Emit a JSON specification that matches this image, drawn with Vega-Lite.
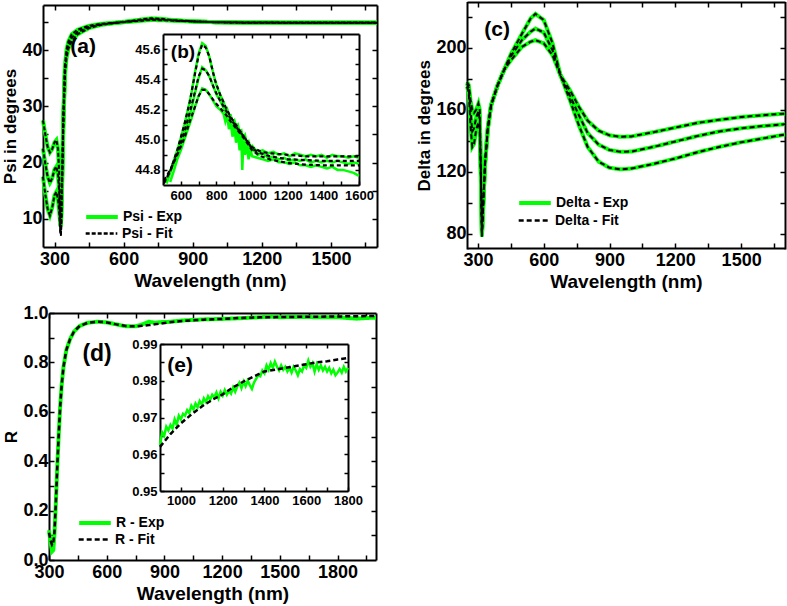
{
  "$schema": "https://vega.github.io/schema/vega-lite/v6.json",
  "width": 787,
  "height": 606,
  "autosize": "none",
  "padding": 0,
  "background": "white",
  "config": {
    "view": {"stroke": null},
    "font": "Liberation Sans",
    "axis": {
      "grid": false,
      "domainColor": "#000",
      "domainWidth": 2,
      "tickColor": "#000",
      "tickWidth": 1.5,
      "tickSize": -5,
      "labelColor": "#000",
      "labelFont": "Liberation Sans",
      "labelFontWeight": "bold",
      "labelFontSize": 18,
      "labelPadding": 8,
      "labelFlush": false,
      "labelOverlap": false,
      "titleFont": "Liberation Sans",
      "titleFontWeight": "bold",
      "titleColor": "#000",
      "titleFontSize": 19,
      "titlePadding": 3
    },
    "legend": {
      "labelFont": "Liberation Sans",
      "labelFontWeight": "bold",
      "labelFontSize": 14,
      "labelColor": "#000",
      "symbolType": "stroke",
      "symbolSize": 1000,
      "symbolStrokeWidth": 3,
      "labelOffset": 3,
      "padding": 0
    }
  },
  "datasets": {
    "psi": [
      {"wl":250,"c":"A","exp":27.5,"fit":27.5},{"wl":260,"c":"A","exp":25.0,"fit":25.0},{"wl":270,"c":"A","exp":22.8,"fit":22.8},{"wl":280,"c":"A","exp":21.8,"fit":21.8},{"wl":290,"c":"A","exp":22.4,"fit":22.4},{"wl":300,"c":"A","exp":23.6,"fit":23.6},{"wl":308,"c":"A","exp":24.0,"fit":24.0},{"wl":315,"c":"A","exp":22.5,"fit":22.5},{"wl":320,"c":"A","exp":18.5,"fit":18.5},{"wl":325,"c":"A","exp":11.0,"fit":9.0},{"wl":328,"c":"A","exp":9.5,"fit":7.5},{"wl":332,"c":"A","exp":16,"fit":16},{"wl":338,"c":"A","exp":28,"fit":28},{"wl":345,"c":"A","exp":37,"fit":37},{"wl":352,"c":"A","exp":40,"fit":40},{"wl":360,"c":"A","exp":41.5,"fit":41.5},{"wl":375,"c":"A","exp":42.8,"fit":42.8},{"wl":400,"c":"A","exp":43.6,"fit":43.6},{"wl":450,"c":"A","exp":44.3,"fit":44.3},{"wl":500,"c":"A","exp":44.65,"fit":44.65},{"wl":560,"c":"A","exp":44.85,"fit":44.85},{"wl":620,"c":"A","exp":45.1,"fit":45.1},{"wl":680,"c":"A","exp":45.44,"fit":45.44},{"wl":720,"c":"A","exp":45.63,"fit":45.63},{"wl":760,"c":"A","exp":45.55,"fit":45.55},{"wl":820,"c":"A","exp":45.3,"fit":45.3},{"wl":900,"c":"A","exp":45.1,"fit":45.1},{"wl":1000,"c":"A","exp":44.95,"fit":44.95},{"wl":1100,"c":"A","exp":44.91,"fit":44.91},{"wl":1300,"c":"A","exp":44.89,"fit":44.89},{"wl":1500,"c":"A","exp":44.89,"fit":44.89},{"wl":1700,"c":"A","exp":44.89,"fit":44.89},
      {"wl":250,"c":"B","exp":22.5,"fit":22.5},{"wl":260,"c":"B","exp":19.8,"fit":19.8},{"wl":270,"c":"B","exp":17.5,"fit":17.5},{"wl":280,"c":"B","exp":16.4,"fit":16.4},{"wl":290,"c":"B","exp":17.2,"fit":17.2},{"wl":300,"c":"B","exp":18.8,"fit":18.8},{"wl":308,"c":"B","exp":19.3,"fit":19.3},{"wl":315,"c":"B","exp":18.0,"fit":18.0},{"wl":320,"c":"B","exp":15.0,"fit":15.0},{"wl":325,"c":"B","exp":10.0,"fit":8.0},{"wl":328,"c":"B","exp":9.2,"fit":7.2},{"wl":332,"c":"B","exp":15,"fit":15},{"wl":338,"c":"B","exp":27,"fit":27},{"wl":345,"c":"B","exp":36.2,"fit":36.2},{"wl":352,"c":"B","exp":39.3,"fit":39.3},{"wl":360,"c":"B","exp":40.8,"fit":40.8},{"wl":375,"c":"B","exp":42.2,"fit":42.2},{"wl":400,"c":"B","exp":43.2,"fit":43.2},{"wl":450,"c":"B","exp":44.1,"fit":44.1},{"wl":500,"c":"B","exp":44.55,"fit":44.55},{"wl":560,"c":"B","exp":44.8,"fit":44.8},{"wl":620,"c":"B","exp":45.05,"fit":45.05},{"wl":680,"c":"B","exp":45.32,"fit":45.32},{"wl":720,"c":"B","exp":45.47,"fit":45.47},{"wl":760,"c":"B","exp":45.42,"fit":45.42},{"wl":820,"c":"B","exp":45.26,"fit":45.26},{"wl":900,"c":"B","exp":45.09,"fit":45.09},{"wl":1000,"c":"B","exp":44.94,"fit":44.94},{"wl":1100,"c":"B","exp":44.89,"fit":44.89},{"wl":1300,"c":"B","exp":44.865,"fit":44.865},{"wl":1500,"c":"B","exp":44.86,"fit":44.86},{"wl":1700,"c":"B","exp":44.86,"fit":44.86},
      {"wl":250,"c":"C","exp":17.5,"fit":17.5},{"wl":260,"c":"C","exp":14.3,"fit":14.3},{"wl":270,"c":"C","exp":11.8,"fit":11.8},{"wl":280,"c":"C","exp":10.6,"fit":10.6},{"wl":290,"c":"C","exp":12.0,"fit":12.0},{"wl":300,"c":"C","exp":14.2,"fit":14.2},{"wl":308,"c":"C","exp":14.8,"fit":14.8},{"wl":315,"c":"C","exp":13.5,"fit":13.5},{"wl":320,"c":"C","exp":11.5,"fit":11.5},{"wl":325,"c":"C","exp":9.0,"fit":7.5},{"wl":328,"c":"C","exp":9.0,"fit":7.0},{"wl":332,"c":"C","exp":14,"fit":14},{"wl":338,"c":"C","exp":26,"fit":26},{"wl":345,"c":"C","exp":35.5,"fit":35.5},{"wl":352,"c":"C","exp":38.6,"fit":38.6},{"wl":360,"c":"C","exp":40.2,"fit":40.2},{"wl":375,"c":"C","exp":41.6,"fit":41.6},{"wl":400,"c":"C","exp":42.8,"fit":42.8},{"wl":450,"c":"C","exp":43.9,"fit":43.9},{"wl":500,"c":"C","exp":44.45,"fit":44.45},{"wl":560,"c":"C","exp":44.8,"fit":44.8},{"wl":620,"c":"C","exp":45.01,"fit":45.01},{"wl":680,"c":"C","exp":45.22,"fit":45.22},{"wl":720,"c":"C","exp":45.33,"fit":45.33},{"wl":760,"c":"C","exp":45.3,"fit":45.3},{"wl":820,"c":"C","exp":45.21,"fit":45.21},{"wl":900,"c":"C","exp":45.08,"fit":45.08},{"wl":1000,"c":"C","exp":44.93,"fit":44.93},{"wl":1100,"c":"C","exp":44.87,"fit":44.87},{"wl":1300,"c":"C","exp":44.835,"fit":44.835},{"wl":1500,"c":"C","exp":44.83,"fit":44.83},{"wl":1700,"c":"C","exp":44.83,"fit":44.83}
    ],
    "psiInFit": [
      {"wl":505,"c":"A","fit":44.71},{"wl":540,"c":"A","fit":44.79},{"wl":580,"c":"A","fit":44.93},{"wl":620,"c":"A","fit":45.10},{"wl":650,"c":"A","fit":45.25},{"wl":680,"c":"A","fit":45.44},{"wl":700,"c":"A","fit":45.56},{"wl":720,"c":"A","fit":45.63},{"wl":740,"c":"A","fit":45.61},{"wl":760,"c":"A","fit":45.55},{"wl":790,"c":"A","fit":45.40},{"wl":820,"c":"A","fit":45.30},{"wl":850,"c":"A","fit":45.22},{"wl":880,"c":"A","fit":45.15},{"wl":920,"c":"A","fit":45.08},{"wl":960,"c":"A","fit":45.01},{"wl":1000,"c":"A","fit":44.95},{"wl":1050,"c":"A","fit":44.92},{"wl":1100,"c":"A","fit":44.91},{"wl":1200,"c":"A","fit":44.90},{"wl":1300,"c":"A","fit":44.89},{"wl":1400,"c":"A","fit":44.89},{"wl":1600,"c":"A","fit":44.89},
      {"wl":505,"c":"B","fit":44.72},{"wl":540,"c":"B","fit":44.79},{"wl":580,"c":"B","fit":44.91},{"wl":620,"c":"B","fit":45.05},{"wl":650,"c":"B","fit":45.18},{"wl":680,"c":"B","fit":45.32},{"wl":700,"c":"B","fit":45.42},{"wl":720,"c":"B","fit":45.47},{"wl":740,"c":"B","fit":45.46},{"wl":760,"c":"B","fit":45.42},{"wl":790,"c":"B","fit":45.33},{"wl":820,"c":"B","fit":45.26},{"wl":850,"c":"B","fit":45.20},{"wl":880,"c":"B","fit":45.14},{"wl":920,"c":"B","fit":45.07},{"wl":960,"c":"B","fit":45.01},{"wl":1000,"c":"B","fit":44.94},{"wl":1050,"c":"B","fit":44.91},{"wl":1100,"c":"B","fit":44.89},{"wl":1200,"c":"B","fit":44.87},{"wl":1300,"c":"B","fit":44.865},{"wl":1400,"c":"B","fit":44.86},{"wl":1600,"c":"B","fit":44.86},
      {"wl":505,"c":"C","fit":44.73},{"wl":540,"c":"C","fit":44.80},{"wl":580,"c":"C","fit":44.90},{"wl":620,"c":"C","fit":45.01},{"wl":650,"c":"C","fit":45.12},{"wl":680,"c":"C","fit":45.22},{"wl":700,"c":"C","fit":45.29},{"wl":720,"c":"C","fit":45.33},{"wl":740,"c":"C","fit":45.33},{"wl":760,"c":"C","fit":45.30},{"wl":790,"c":"C","fit":45.25},{"wl":820,"c":"C","fit":45.21},{"wl":850,"c":"C","fit":45.17},{"wl":880,"c":"C","fit":45.12},{"wl":920,"c":"C","fit":45.06},{"wl":960,"c":"C","fit":45.00},{"wl":1000,"c":"C","fit":44.93},{"wl":1050,"c":"C","fit":44.89},{"wl":1100,"c":"C","fit":44.87},{"wl":1200,"c":"C","fit":44.845},{"wl":1300,"c":"C","fit":44.835},{"wl":1400,"c":"C","fit":44.83},{"wl":1600,"c":"C","fit":44.83}
    ],
    "psiInExp": [
      {"wl":520,"c":"A","exp":44.72},{"wl":540,"c":"A","exp":44.79},{"wl":560,"c":"A","exp":44.86},{"wl":580,"c":"A","exp":44.93},{"wl":600,"c":"A","exp":45.01},{"wl":620,"c":"A","exp":45.10},{"wl":640,"c":"A","exp":45.2},{"wl":660,"c":"A","exp":45.31},{"wl":680,"c":"A","exp":45.45},{"wl":700,"c":"A","exp":45.57},{"wl":720,"c":"A","exp":45.64},{"wl":740,"c":"A","exp":45.62},{"wl":760,"c":"A","exp":45.55},{"wl":780,"c":"A","exp":45.45},{"wl":800,"c":"A","exp":45.36},{"wl":820,"c":"A","exp":45.30},{"wl":840,"c":"A","exp":45.25},{"wl":850,"c":"A","exp":45.21},{"wl":860,"c":"A","exp":45.2},{"wl":870,"c":"A","exp":45.16},{"wl":880,"c":"A","exp":45.16},{"wl":890,"c":"A","exp":45.12},{"wl":900,"c":"A","exp":45.13},{"wl":910,"c":"A","exp":45.09},{"wl":920,"c":"A","exp":45.1},{"wl":930,"c":"A","exp":45.05},{"wl":940,"c":"A","exp":45.06},{"wl":950,"c":"A","exp":45.01},{"wl":960,"c":"A","exp":45.03},{"wl":970,"c":"A","exp":44.98},{"wl":980,"c":"A","exp":44.99},{"wl":990,"c":"A","exp":44.95},{"wl":1000,"c":"A","exp":44.96},{"wl":1030,"c":"A","exp":44.92},{"wl":1060,"c":"A","exp":44.93},{"wl":1090,"c":"A","exp":44.91},{"wl":1120,"c":"A","exp":44.92},{"wl":1150,"c":"A","exp":44.90},{"wl":1180,"c":"A","exp":44.91},{"wl":1210,"c":"A","exp":44.89},{"wl":1240,"c":"A","exp":44.91},{"wl":1270,"c":"A","exp":44.9},{"wl":1300,"c":"A","exp":44.89},{"wl":1330,"c":"A","exp":44.9},{"wl":1360,"c":"A","exp":44.89},{"wl":1390,"c":"A","exp":44.9},{"wl":1420,"c":"A","exp":44.88},{"wl":1450,"c":"A","exp":44.9},{"wl":1480,"c":"A","exp":44.89},{"wl":1510,"c":"A","exp":44.89},{"wl":1540,"c":"A","exp":44.88},{"wl":1570,"c":"A","exp":44.89},{"wl":1600,"c":"A","exp":44.88},
      {"wl":520,"c":"B","exp":44.71},{"wl":540,"c":"B","exp":44.78},{"wl":560,"c":"B","exp":44.84},{"wl":580,"c":"B","exp":44.9},{"wl":600,"c":"B","exp":44.97},{"wl":620,"c":"B","exp":45.04},{"wl":640,"c":"B","exp":45.12},{"wl":660,"c":"B","exp":45.21},{"wl":680,"c":"B","exp":45.31},{"wl":700,"c":"B","exp":45.41},{"wl":720,"c":"B","exp":45.48},{"wl":740,"c":"B","exp":45.46},{"wl":760,"c":"B","exp":45.42},{"wl":780,"c":"B","exp":45.36},{"wl":800,"c":"B","exp":45.3},{"wl":820,"c":"B","exp":45.26},{"wl":840,"c":"B","exp":45.21},{"wl":850,"c":"B","exp":45.18},{"wl":860,"c":"B","exp":45.2},{"wl":870,"c":"B","exp":45.13},{"wl":880,"c":"B","exp":45.15},{"wl":890,"c":"B","exp":45.09},{"wl":900,"c":"B","exp":45.11},{"wl":910,"c":"B","exp":45.05},{"wl":920,"c":"B","exp":45.08},{"wl":930,"c":"B","exp":45.0},{"wl":940,"c":"B","exp":45.05},{"wl":950,"c":"B","exp":44.92},{"wl":960,"c":"B","exp":45.0},{"wl":970,"c":"B","exp":44.94},{"wl":980,"c":"B","exp":44.97},{"wl":990,"c":"B","exp":44.91},{"wl":1000,"c":"B","exp":44.94},{"wl":1030,"c":"B","exp":44.9},{"wl":1060,"c":"B","exp":44.91},{"wl":1090,"c":"B","exp":44.88},{"wl":1120,"c":"B","exp":44.89},{"wl":1150,"c":"B","exp":44.87},{"wl":1180,"c":"B","exp":44.88},{"wl":1210,"c":"B","exp":44.86},{"wl":1240,"c":"B","exp":44.87},{"wl":1270,"c":"B","exp":44.86},{"wl":1300,"c":"B","exp":44.87},{"wl":1330,"c":"B","exp":44.85},{"wl":1360,"c":"B","exp":44.86},{"wl":1390,"c":"B","exp":44.85},{"wl":1420,"c":"B","exp":44.86},{"wl":1450,"c":"B","exp":44.85},{"wl":1480,"c":"B","exp":44.86},{"wl":1510,"c":"B","exp":44.85},{"wl":1540,"c":"B","exp":44.84},{"wl":1570,"c":"B","exp":44.85},{"wl":1600,"c":"B","exp":44.84},
      {"wl":540,"c":"C","exp":44.72},{"wl":560,"c":"C","exp":44.79},{"wl":580,"c":"C","exp":44.87},{"wl":600,"c":"C","exp":44.93},{"wl":620,"c":"C","exp":45.0},{"wl":640,"c":"C","exp":45.07},{"wl":660,"c":"C","exp":45.14},{"wl":680,"c":"C","exp":45.22},{"wl":700,"c":"C","exp":45.29},{"wl":720,"c":"C","exp":45.34},{"wl":740,"c":"C","exp":45.33},{"wl":760,"c":"C","exp":45.3},{"wl":780,"c":"C","exp":45.26},{"wl":800,"c":"C","exp":45.22},{"wl":820,"c":"C","exp":45.2},{"wl":840,"c":"C","exp":45.17},{"wl":850,"c":"C","exp":45.12},{"wl":860,"c":"C","exp":45.16},{"wl":870,"c":"C","exp":45.07},{"wl":880,"c":"C","exp":45.12},{"wl":890,"c":"C","exp":45.02},{"wl":900,"c":"C","exp":45.09},{"wl":910,"c":"C","exp":44.98},{"wl":920,"c":"C","exp":45.05},{"wl":930,"c":"C","exp":44.93},{"wl":940,"c":"C","exp":45.0},{"wl":945,"c":"C","exp":44.8},{"wl":950,"c":"C","exp":44.97},{"wl":960,"c":"C","exp":44.9},{"wl":970,"c":"C","exp":44.97},{"wl":980,"c":"C","exp":44.87},{"wl":990,"c":"C","exp":44.94},{"wl":1000,"c":"C","exp":44.89},{"wl":1030,"c":"C","exp":44.88},{"wl":1060,"c":"C","exp":44.87},{"wl":1090,"c":"C","exp":44.86},{"wl":1120,"c":"C","exp":44.87},{"wl":1150,"c":"C","exp":44.85},{"wl":1180,"c":"C","exp":44.85},{"wl":1210,"c":"C","exp":44.84},{"wl":1240,"c":"C","exp":44.85},{"wl":1270,"c":"C","exp":44.83},{"wl":1300,"c":"C","exp":44.83},{"wl":1330,"c":"C","exp":44.82},{"wl":1360,"c":"C","exp":44.83},{"wl":1390,"c":"C","exp":44.82},{"wl":1420,"c":"C","exp":44.81},{"wl":1450,"c":"C","exp":44.82},{"wl":1480,"c":"C","exp":44.8},{"wl":1510,"c":"C","exp":44.8},{"wl":1540,"c":"C","exp":44.79},{"wl":1570,"c":"C","exp":44.78},{"wl":1600,"c":"C","exp":44.76}
    ],
    "delta": [
      {"wl":250,"c":"A","v":175},{"wl":258,"c":"A","v":171},{"wl":266,"c":"A","v":150},{"wl":274,"c":"A","v":136},{"wl":282,"c":"A","v":138},{"wl":292,"c":"A","v":147},{"wl":302,"c":"A","v":152},{"wl":308,"c":"A","v":147},{"wl":313,"c":"A","v":118},{"wl":318,"c":"A","v":78},{"wl":324,"c":"A","v":98},{"wl":332,"c":"A","v":124},{"wl":345,"c":"A","v":148},{"wl":360,"c":"A","v":163},{"wl":390,"c":"A","v":176},{"wl":420,"c":"A","v":186},{"wl":450,"c":"A","v":196},{"wl":500,"c":"A","v":209},{"wl":540,"c":"A","v":219},{"wl":562,"c":"A","v":222},{"wl":600,"c":"A","v":218},{"wl":640,"c":"A","v":203},{"wl":676,"c":"A","v":182.4},{"wl":720,"c":"A","v":166},{"wl":760,"c":"A","v":150},{"wl":800,"c":"A","v":136},{"wl":850,"c":"A","v":126.5},{"wl":900,"c":"A","v":122.5},{"wl":950,"c":"A","v":121.5},{"wl":1000,"c":"A","v":122},{"wl":1100,"c":"A","v":125},{"wl":1200,"c":"A","v":128.5},{"wl":1300,"c":"A","v":132.5},{"wl":1400,"c":"A","v":136},{"wl":1500,"c":"A","v":139},{"wl":1600,"c":"A","v":141.5},{"wl":1700,"c":"A","v":144},
      {"wl":250,"c":"B","v":177},{"wl":258,"c":"B","v":174},{"wl":266,"c":"B","v":160},{"wl":274,"c":"B","v":146},{"wl":282,"c":"B","v":148},{"wl":292,"c":"B","v":155},{"wl":302,"c":"B","v":159},{"wl":308,"c":"B","v":154},{"wl":313,"c":"B","v":120},{"wl":318,"c":"B","v":79},{"wl":324,"c":"B","v":99},{"wl":332,"c":"B","v":125},{"wl":345,"c":"B","v":148},{"wl":360,"c":"B","v":163},{"wl":390,"c":"B","v":176},{"wl":420,"c":"B","v":186},{"wl":450,"c":"B","v":194.5},{"wl":500,"c":"B","v":205},{"wl":540,"c":"B","v":210.5},{"wl":562,"c":"B","v":212.5},{"wl":600,"c":"B","v":210},{"wl":640,"c":"B","v":198.5},{"wl":676,"c":"B","v":182.4},{"wl":720,"c":"B","v":169},{"wl":760,"c":"B","v":156.5},{"wl":800,"c":"B","v":145},{"wl":850,"c":"B","v":137.5},{"wl":900,"c":"B","v":134},{"wl":950,"c":"B","v":132.8},{"wl":1000,"c":"B","v":133},{"wl":1100,"c":"B","v":136},{"wl":1200,"c":"B","v":139.5},{"wl":1300,"c":"B","v":143},{"wl":1400,"c":"B","v":146},{"wl":1500,"c":"B","v":148},{"wl":1600,"c":"B","v":149.5},{"wl":1700,"c":"B","v":150.7},
      {"wl":250,"c":"C","v":178},{"wl":258,"c":"C","v":176},{"wl":266,"c":"C","v":166},{"wl":274,"c":"C","v":160},{"wl":282,"c":"C","v":158},{"wl":292,"c":"C","v":160},{"wl":302,"c":"C","v":164},{"wl":308,"c":"C","v":160},{"wl":313,"c":"C","v":125},{"wl":318,"c":"C","v":80},{"wl":324,"c":"C","v":100},{"wl":332,"c":"C","v":126},{"wl":345,"c":"C","v":148},{"wl":360,"c":"C","v":163},{"wl":390,"c":"C","v":176},{"wl":420,"c":"C","v":186},{"wl":450,"c":"C","v":192},{"wl":500,"c":"C","v":200.6},{"wl":540,"c":"C","v":204},{"wl":562,"c":"C","v":205},{"wl":600,"c":"C","v":203},{"wl":640,"c":"C","v":195.3},{"wl":676,"c":"C","v":182.4},{"wl":720,"c":"C","v":172.5},{"wl":760,"c":"C","v":162},{"wl":800,"c":"C","v":153},{"wl":850,"c":"C","v":146.5},{"wl":900,"c":"C","v":143.5},{"wl":950,"c":"C","v":142.5},{"wl":1000,"c":"C","v":142.8},{"wl":1100,"c":"C","v":145.5},{"wl":1200,"c":"C","v":148.5},{"wl":1300,"c":"C","v":151.5},{"wl":1400,"c":"C","v":153.5},{"wl":1500,"c":"C","v":155.3},{"wl":1600,"c":"C","v":156.5},{"wl":1700,"c":"C","v":157.5}
    ],
    "refl": [
      {"wl":300,"exp":0.12,"fit":0.11},{"wl":308,"exp":0.07,"fit":0.08},{"wl":316,"exp":0.035,"fit":0.06},{"wl":322,"exp":0.04,"fit":0.065},{"wl":328,"exp":0.1,"fit":0.11},{"wl":335,"exp":0.22,"fit":0.22},{"wl":342,"exp":0.36,"fit":0.36},{"wl":350,"exp":0.5,"fit":0.5},{"wl":358,"exp":0.62,"fit":0.62},{"wl":366,"exp":0.71,"fit":0.71},{"wl":375,"exp":0.78,"fit":0.78},{"wl":390,"exp":0.85,"fit":0.85},{"wl":410,"exp":0.895,"fit":0.895},{"wl":430,"exp":0.925,"fit":0.925},{"wl":460,"exp":0.948,"fit":0.948},{"wl":500,"exp":0.96,"fit":0.96},{"wl":550,"exp":0.965,"fit":0.965},{"wl":600,"exp":0.962,"fit":0.962},{"wl":650,"exp":0.954,"fit":0.954},{"wl":700,"exp":0.946,"fit":0.947},{"wl":750,"exp":0.946,"fit":0.946},{"wl":790,"exp":0.955,"fit":0.949},{"wl":820,"exp":0.965,"fit":0.951},{"wl":850,"exp":0.96,"fit":0.954},{"wl":880,"exp":0.963,"fit":0.957},{"wl":920,"exp":0.964,"fit":0.962},{"wl":1000,"exp":0.97,"fit":0.968},{"wl":1100,"exp":0.974,"fit":0.973},{"wl":1200,"exp":0.976,"fit":0.976},{"wl":1300,"exp":0.979,"fit":0.98},{"wl":1400,"exp":0.983,"fit":0.9825},{"wl":1450,"exp":0.985,"fit":0.983},{"wl":1500,"exp":0.983,"fit":0.9835},{"wl":1600,"exp":0.984,"fit":0.9845},{"wl":1700,"exp":0.983,"fit":0.985},{"wl":1800,"exp":0.983,"fit":0.986},{"wl":1850,"exp":0.98,"fit":0.9865},{"wl":1900,"exp":0.977,"fit":0.987},{"wl":1950,"exp":0.98,"fit":0.9875},{"wl":2000,"exp":0.981,"fit":0.988}
    ],
    "reflInExp": [
      {"wl":900,"exp":0.9625},{"wl":910,"exp":0.966},{"wl":920,"exp":0.965},{"wl":930,"exp":0.9675},{"wl":940,"exp":0.9665},{"wl":950,"exp":0.968},{"wl":960,"exp":0.967},{"wl":970,"exp":0.9695},{"wl":980,"exp":0.968},{"wl":990,"exp":0.9705},{"wl":1000,"exp":0.9695},{"wl":1010,"exp":0.971},{"wl":1020,"exp":0.9705},{"wl":1030,"exp":0.972},{"wl":1040,"exp":0.9712},{"wl":1050,"exp":0.9732},{"wl":1060,"exp":0.9722},{"wl":1070,"exp":0.9738},{"wl":1080,"exp":0.9728},{"wl":1090,"exp":0.9745},{"wl":1100,"exp":0.9735},{"wl":1110,"exp":0.9752},{"wl":1120,"exp":0.9742},{"wl":1130,"exp":0.9758},{"wl":1140,"exp":0.9748},{"wl":1150,"exp":0.9762},{"wl":1160,"exp":0.9755},{"wl":1170,"exp":0.9768},{"wl":1180,"exp":0.9752},{"wl":1190,"exp":0.977},{"wl":1200,"exp":0.976},{"wl":1210,"exp":0.9775},{"wl":1220,"exp":0.9762},{"wl":1230,"exp":0.9772},{"wl":1240,"exp":0.9765},{"wl":1250,"exp":0.9782},{"wl":1260,"exp":0.977},{"wl":1270,"exp":0.9785},{"wl":1280,"exp":0.9795},{"wl":1290,"exp":0.978},{"wl":1300,"exp":0.9798},{"wl":1310,"exp":0.9785},{"wl":1320,"exp":0.98},{"wl":1330,"exp":0.9788},{"wl":1340,"exp":0.9778},{"wl":1350,"exp":0.9795},{"wl":1360,"exp":0.9805},{"wl":1370,"exp":0.9815},{"wl":1380,"exp":0.9812},{"wl":1390,"exp":0.9828},{"wl":1400,"exp":0.982},{"wl":1410,"exp":0.9842},{"wl":1420,"exp":0.983},{"wl":1430,"exp":0.9848},{"wl":1440,"exp":0.9835},{"wl":1450,"exp":0.9852},{"wl":1460,"exp":0.9838},{"wl":1470,"exp":0.9828},{"wl":1480,"exp":0.9842},{"wl":1490,"exp":0.983},{"wl":1500,"exp":0.9838},{"wl":1510,"exp":0.9825},{"wl":1520,"exp":0.9835},{"wl":1530,"exp":0.9822},{"wl":1540,"exp":0.9838},{"wl":1550,"exp":0.9828},{"wl":1560,"exp":0.9815},{"wl":1570,"exp":0.9832},{"wl":1580,"exp":0.9825},{"wl":1590,"exp":0.9842},{"wl":1600,"exp":0.9835},{"wl":1610,"exp":0.9855},{"wl":1620,"exp":0.9838},{"wl":1630,"exp":0.9848},{"wl":1640,"exp":0.9825},{"wl":1650,"exp":0.9845},{"wl":1660,"exp":0.983},{"wl":1670,"exp":0.9842},{"wl":1680,"exp":0.9828},{"wl":1690,"exp":0.9838},{"wl":1700,"exp":0.9825},{"wl":1710,"exp":0.9835},{"wl":1720,"exp":0.982},{"wl":1730,"exp":0.983},{"wl":1740,"exp":0.9815},{"wl":1750,"exp":0.9822},{"wl":1760,"exp":0.9832},{"wl":1770,"exp":0.9822},{"wl":1780,"exp":0.9838},{"wl":1790,"exp":0.9825},{"wl":1800,"exp":0.9835}
    ],
    "reflInFit": [
      {"wl":900,"fit":0.962},{"wl":950,"fit":0.9655},{"wl":1000,"fit":0.9684},{"wl":1050,"fit":0.9708},{"wl":1100,"fit":0.973},{"wl":1150,"fit":0.9748},{"wl":1200,"fit":0.9763},{"wl":1250,"fit":0.9782},{"wl":1300,"fit":0.9798},{"wl":1350,"fit":0.9812},{"wl":1400,"fit":0.9825},{"wl":1450,"fit":0.983},{"wl":1500,"fit":0.9835},{"wl":1550,"fit":0.984},{"wl":1600,"fit":0.9845},{"wl":1650,"fit":0.985},{"wl":1700,"fit":0.9853},{"wl":1750,"fit":0.9858},{"wl":1800,"fit":0.9862}
    ]
  },
  "layer": [
    {
      "layer": [
        {
          "data": {"name": "psi"},
          "mark": {"type": "line", "strokeWidth": 4},
          "encoding": {
            "x": {"field": "wl", "type": "quantitative", "scale": {"domain": [250, 1700], "range": [43, 377], "nice": false, "zero": false},
              "axis": {"orient": "bottom", "offset": -359, "title": "Wavelength (nm)", "format": "d", "values": [300,450,600,750,900,1050,1200,1350,1500,1650], "labelExpr": "datum.value % 300 === 0 ? datum.label : ''"}},
            "y": {"field": "exp", "type": "quantitative", "scale": {"domain": [5, 48], "range": [247, 5], "nice": false, "zero": false},
              "axis": {"orient": "left", "offset": -43, "title": "Psi in degrees", "titleFontSize": 17, "labelPadding": 6, "titlePadding": 2, "values": [10,15,20,25,30,35,40,45], "labelExpr": "datum.value % 10 === 0 ? datum.label : ''"}},
            "detail": {"field": "c"},
            "color": {"datum": "Psi - Exp", "scale": {"domain": ["Psi - Exp", "Psi - Fit"], "range": ["#00ff00", "#000000"]}, "legend": {"title": null, "orient": "none", "legendX": 84, "legendY": 199, "values": ["Psi - Exp"], "symbolStrokeWidth": 4}},
            "strokeDash": {"datum": "Psi - Exp", "scale": {"domain": ["Psi - Fit", "Psi - Exp"], "range": [[4, 2], [1, 0]]}, "legend": {"title": null, "orient": "none", "legendX": 84, "legendY": 216, "values": ["Psi - Fit"], "symbolStrokeColor": "#000", "symbolStrokeWidth": 2.5}}
          }
        },
        {
          "data": {"name": "psi"},
          "mark": {"type": "line", "strokeWidth": 2},
          "encoding": {
            "x": {"field": "wl", "type": "quantitative", "axis": {"orient": "top", "offset": -5, "labels": false, "title": null, "values": [300,450,600,750,900,1050,1200,1350,1500,1650]}},
            "y": {"field": "fit", "type": "quantitative", "axis": {"orient": "right", "offset": -410, "labels": false, "title": null, "values": [10,15,20,25,30,35,40,45]}},
            "detail": {"field": "c"},
            "color": {"datum": "Psi - Fit"},
            "strokeDash": {"datum": "Psi - Fit"}
          }
        },
        {
          "data": {"values": [{"label": "(a)", "wl": 424, "val": 40.5}]},
          "mark": {"type": "text", "fontSize": 21, "fontWeight": "bold", "font": "Liberation Sans", "color": "#000", "align": "center", "baseline": "middle"},
          "encoding": {
            "x": {"field": "wl", "type": "quantitative", "axis": null},
            "y": {"field": "val", "type": "quantitative", "axis": null},
            "text": {"field": "label"}
          }
        }
      ],
      "resolve": {"axis": {"x": "independent", "y": "independent"}}
    },
    {
      "layer": [
        {
          "data": {"name": "psiInExp"},
          "mark": {"type": "line", "strokeWidth": 2.5, "color": "#00ff00"},
          "encoding": {
            "x": {"field": "wl", "type": "quantitative", "scale": {"domain": [500, 1600], "range": [163, 359], "nice": false, "zero": false},
              "axis": {"orient": "bottom", "offset": -421, "title": null, "format": "d", "labelFontSize": 13, "tickSize": -4, "labelPadding": 8, "values": [600,700,800,900,1000,1100,1200,1300,1400,1500,1600], "labelExpr": "datum.value % 200 === 0 ? datum.label : ''"}},
            "y": {"field": "exp", "type": "quantitative", "scale": {"domain": [44.7, 45.7], "range": [185, 34], "nice": false, "zero": false},
              "axis": {"orient": "left", "offset": -163, "title": null, "format": ".1f", "labelFontSize": 13, "tickSize": -4, "labelPadding": 7, "values": [44.8,44.9,45.0,45.1,45.2,45.3,45.4,45.5,45.6], "labelExpr": "round(datum.value * 10) % 2 === 0 ? datum.label : ''"}},
            "detail": {"field": "c"}
          }
        },
        {
          "data": {"name": "psiInFit"},
          "mark": {"type": "line", "strokeWidth": 2.2, "color": "#000", "strokeDash": [4, 3]},
          "encoding": {
            "x": {"field": "wl", "type": "quantitative", "axis": {"orient": "top", "offset": -34, "labels": false, "title": null, "tickSize": -4, "values": [600,700,800,900,1000,1100,1200,1300,1400,1500]}},
            "y": {"field": "fit", "type": "quantitative", "axis": {"orient": "right", "offset": -428, "labels": false, "title": null, "tickSize": -4, "values": [44.8,44.9,45.0,45.1,45.2,45.3,45.4,45.5,45.6]}},
            "detail": {"field": "c"}
          }
        },
        {
          "data": {"values": [{"label": "(b)", "wl": 612, "val": 45.58}]},
          "mark": {"type": "text", "fontSize": 19, "fontWeight": "bold", "font": "Liberation Sans", "color": "#000", "align": "center", "baseline": "middle"},
          "encoding": {
            "x": {"field": "wl", "type": "quantitative", "axis": null},
            "y": {"field": "val", "type": "quantitative", "axis": null},
            "text": {"field": "label"}
          }
        }
      ],
      "resolve": {"axis": {"x": "independent", "y": "independent"}}
    },
    {
      "layer": [
        {
          "data": {"name": "delta"},
          "mark": {"type": "line", "strokeWidth": 4},
          "encoding": {
            "x": {"field": "wl", "type": "quantitative", "scale": {"domain": [250, 1700], "range": [467, 785], "nice": false, "zero": false},
              "axis": {"orient": "bottom", "offset": -358, "title": "Wavelength (nm)", "format": "d", "values": [300,450,600,750,900,1050,1200,1350,1500,1650], "labelExpr": "datum.value % 300 === 0 ? datum.label : ''"}},
            "y": {"field": "v", "type": "quantitative", "scale": {"domain": [70, 230], "range": [249, 1.5], "nice": false, "zero": false},
              "axis": {"orient": "left", "offset": -467, "title": "Delta in degrees", "titleFontSize": 17, "labelPadding": 6, "titlePadding": 2, "values": [80,100,120,140,160,180,200,220], "labelExpr": "datum.value % 40 === 0 ? datum.label : ''"}},
            "detail": {"field": "c"},
            "color": {"datum": "Delta - Exp", "scale": {"domain": ["Delta - Exp", "Delta - Fit"], "range": ["#00ff00", "#000000"]}, "legend": {"title": null, "orient": "none", "legendX": 517, "legendY": 185, "values": ["Delta - Exp"], "symbolStrokeWidth": 4}},
            "strokeDash": {"datum": "Delta - Exp", "scale": {"domain": ["Delta - Fit", "Delta - Exp"], "range": [[5, 3], [1, 0]]}, "legend": {"title": null, "orient": "none", "legendX": 517, "legendY": 203, "values": ["Delta - Fit"], "symbolStrokeColor": "#000", "symbolStrokeWidth": 2.5}}
          }
        },
        {
          "data": {"name": "delta"},
          "mark": {"type": "line", "strokeWidth": 2},
          "encoding": {
            "x": {"field": "wl", "type": "quantitative", "axis": {"orient": "top", "offset": -2, "labels": false, "title": null, "values": [300,450,600,750,900,1050,1200,1350,1500,1650]}},
            "y": {"field": "v", "type": "quantitative", "axis": {"orient": "right", "offset": -2, "labels": false, "title": null, "values": [80,100,120,140,160,180,200,220]}},
            "detail": {"field": "c"},
            "color": {"datum": "Delta - Fit"},
            "strokeDash": {"datum": "Delta - Fit"}
          }
        },
        {
          "data": {"values": [{"label": "(c)", "wl": 387, "val": 211.5}]},
          "mark": {"type": "text", "fontSize": 21, "fontWeight": "bold", "font": "Liberation Sans", "color": "#000", "align": "center", "baseline": "middle"},
          "encoding": {
            "x": {"field": "wl", "type": "quantitative", "axis": null},
            "y": {"field": "val", "type": "quantitative", "axis": null},
            "text": {"field": "label"}
          }
        }
      ],
      "resolve": {"axis": {"x": "independent", "y": "independent"}}
    },
    {
      "layer": [
        {
          "data": {"name": "refl"},
          "mark": {"type": "line", "strokeWidth": 4},
          "encoding": {
            "x": {"field": "wl", "type": "quantitative", "scale": {"domain": [300, 2000], "range": [49, 376], "nice": false, "zero": false},
              "axis": {"orient": "bottom", "offset": -46, "title": "Wavelength (nm)", "format": "d", "values": [300,450,600,750,900,1050,1200,1350,1500,1650,1800,1950], "labelExpr": "datum.value % 300 === 0 ? datum.label : ''"}},
            "y": {"field": "exp", "type": "quantitative", "scale": {"domain": [0, 1], "range": [560, 313], "nice": false, "zero": false},
              "axis": {"orient": "left", "offset": -49, "title": "R", "titleFontSize": 17, "labelPadding": 6, "titlePadding": 2, "format": ".1f", "values": [0,0.1,0.2,0.3,0.4,0.5,0.6,0.7,0.8,0.9,1.0], "labelExpr": "round(datum.value * 10) % 2 === 0 ? datum.label : ''"}},
            "color": {"datum": "R - Exp", "scale": {"domain": ["R - Exp", "R - Fit"], "range": ["#00ff00", "#000000"]}, "legend": {"title": null, "orient": "none", "legendX": 77, "legendY": 505, "values": ["R - Exp"], "symbolStrokeWidth": 4}},
            "strokeDash": {"datum": "R - Exp", "scale": {"domain": ["R - Fit", "R - Exp"], "range": [[5, 3], [1, 0]]}, "legend": {"title": null, "orient": "none", "legendX": 77, "legendY": 522, "values": ["R - Fit"], "symbolStrokeColor": "#000", "symbolStrokeWidth": 2.5}}
          }
        },
        {
          "data": {"name": "refl"},
          "mark": {"type": "line", "strokeWidth": 2.5},
          "encoding": {
            "x": {"field": "wl", "type": "quantitative", "axis": {"orient": "top", "offset": -313, "labels": false, "title": null, "values": [300,450,600,750,900,1050,1200,1350,1500,1650,1800,1950]}},
            "y": {"field": "fit", "type": "quantitative", "axis": {"orient": "right", "offset": -411, "labels": false, "title": null, "values": [0.1,0.2,0.3,0.4,0.5,0.6,0.7,0.8,0.9]}},
            "color": {"datum": "R - Fit"},
            "strokeDash": {"datum": "R - Fit"}
          }
        },
        {
          "data": {"values": [{"label": "(d)", "wl": 550, "val": 0.834}]},
          "mark": {"type": "text", "fontSize": 23, "fontWeight": "bold", "font": "Liberation Sans", "color": "#000", "align": "center", "baseline": "middle"},
          "encoding": {
            "x": {"field": "wl", "type": "quantitative", "axis": null},
            "y": {"field": "val", "type": "quantitative", "axis": null},
            "text": {"field": "label"}
          }
        }
      ],
      "resolve": {"axis": {"x": "independent", "y": "independent"}}
    },
    {
      "layer": [
        {
          "data": {"name": "reflInExp"},
          "mark": {"type": "line", "strokeWidth": 2.5, "color": "#00ff00"},
          "encoding": {
            "x": {"field": "wl", "type": "quantitative", "scale": {"domain": [900, 1800], "range": [160, 348], "nice": false, "zero": false},
              "axis": {"orient": "bottom", "offset": -115, "title": null, "format": "d", "labelFontSize": 13, "tickSize": -4, "labelPadding": 7, "values": [1000,1100,1200,1300,1400,1500,1600,1700,1800], "labelExpr": "datum.value % 200 === 0 ? datum.label : ''"}},
            "y": {"field": "exp", "type": "quantitative", "scale": {"domain": [0.95, 0.99], "range": [491, 344], "nice": false, "zero": false},
              "axis": {"orient": "left", "offset": -160, "title": null, "format": ".2f", "labelFontSize": 13, "tickSize": -4, "labelPadding": 7, "values": [0.95,0.955,0.96,0.965,0.97,0.975,0.98,0.985,0.99], "labelExpr": "round(datum.value * 1000) % 10 === 0 ? datum.label : ''"}}
          }
        },
        {
          "data": {"name": "reflInFit"},
          "mark": {"type": "line", "strokeWidth": 2.5, "color": "#000", "strokeDash": [5, 3]},
          "encoding": {
            "x": {"field": "wl", "type": "quantitative", "axis": {"orient": "top", "offset": -344, "labels": false, "title": null, "tickSize": -4, "values": [1000,1100,1200,1300,1400,1500,1600,1700]}},
            "y": {"field": "fit", "type": "quantitative", "axis": {"orient": "right", "offset": -439, "labels": false, "title": null, "tickSize": -4, "values": [0.955,0.96,0.965,0.97,0.975,0.98,0.985]}}
          }
        },
        {
          "data": {"values": [{"label": "(e)", "wl": 996, "val": 0.984}]},
          "mark": {"type": "text", "fontSize": 21, "fontWeight": "bold", "font": "Liberation Sans", "color": "#000", "align": "center", "baseline": "middle"},
          "encoding": {
            "x": {"field": "wl", "type": "quantitative", "axis": null},
            "y": {"field": "val", "type": "quantitative", "axis": null},
            "text": {"field": "label"}
          }
        }
      ],
      "resolve": {"axis": {"x": "independent", "y": "independent"}}
    }
  ],
  "resolve": {
    "scale": {"x": "independent", "y": "independent", "color": "independent", "strokeDash": "independent"},
    "axis": {"x": "independent", "y": "independent"},
    "legend": {"color": "independent", "strokeDash": "independent"}
  }
}
